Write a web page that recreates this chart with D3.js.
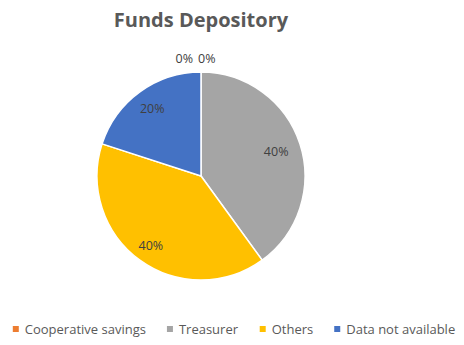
<!DOCTYPE html>
<html>
<head>
<meta charset="utf-8">
<script src="https://cdn.jsdelivr.net/npm/d3@7"></script>
<style>
  html, body { margin: 0; padding: 0; background: #fff; }
  svg { display: block; font-family: "Open Sans", "Noto Sans", sans-serif; }
</style>
</head>
<body>
<svg id="chart" width="464" height="345"></svg>
<script>
// Share of funds by depository
const categories = ["Cooperative savings", "Treasurer", "Others", "Data not available", ""];
const values = [0, 40, 40, 20, 0];
const colors = ["#ED7D31", "#A5A5A5", "#FFC000", "#4472C4", "#5B9BD5"];
const legendCategories = categories.slice(0, 4);

const svg = d3.select("#chart");
const W = 464;
const cx = 201, cy = 176, R = 104;

svg.append("text")
  .attr("x", cx).attr("y", 27)
  .attr("text-anchor", "middle")
  .attr("font-size", 20).attr("font-weight", 700)
  .attr("fill", "#595959")
  .text("Funds Depository");

const data = categories.map((c, i) => ({ name: c, value: values[i], color: colors[i] }));
const pie = d3.pie().sort(null).value(d => d.value);
const arcs = pie(data);
const arc = d3.arc().innerRadius(0).outerRadius(R);

const g = svg.append("g").attr("transform", `translate(${cx},${cy})`);
g.selectAll("path.slice")
  .data(arcs.filter(a => a.data.value > 0))
  .join("path")
  .attr("class", "slice")
  .attr("d", arc)
  .attr("fill", d => d.data.color)
  .attr("stroke", "#fff")
  .attr("stroke-width", 1.5);

// Percentage labels: inside for visible slices, above the rim for empty ones
const total = d3.sum(values);
const inner = d3.arc().innerRadius(R * 0.76).outerRadius(R * 0.76);
g.selectAll("text.pct")
  .data(arcs)
  .join("text")
  .attr("class", "pct")
  .attr("font-size", 12.5)
  .attr("fill", "#404040")
  .attr("dominant-baseline", "central")
  .attr("text-anchor", d => d.data.value > 0 ? "middle" : (d.index === 0 ? "start" : "end"))
  .attr("transform", d => {
    if (d.data.value > 0) {
      const [x, y] = inner.centroid(d);
      const extra = d.index === 2 ? 1.08 : (d.index === 3 ? 1.05 : 1);
      return `translate(${x * extra},${y * extra})`;
    }
    const a = d.startAngle;
    const r = R + 14;
    const dx = d.index === 0 ? -3 : -8;
    return `translate(${Math.sin(a) * r + dx},${-Math.cos(a) * r})`;
  })
  .text(d => Math.round(d.data.value / total * 100) + "%");

// Legend
const legend = svg.append("g").attr("transform", "translate(0,329)");
const items = legend.selectAll("g.item").data(legendCategories).join("g").attr("class", "item");
items.append("rect")
  .attr("y", -3).attr("width", 6).attr("height", 6)
  .attr("fill", (d, i) => colors[i]);
items.append("text")
  .attr("x", 12).attr("y", 0)
  .attr("dominant-baseline", "central")
  .attr("font-size", 13).attr("fill", "#595959")
  .text(d => d);
let widths = [];
items.each(function () { widths.push(this.getBBox().width); });
const gap = 21;
const totalW = d3.sum(widths) + gap * (widths.length - 1);
let x0 = (W - totalW) / 2 + 2;
items.attr("transform", (d, i) => {
  const t = `translate(${x0},0)`;
  x0 += widths[i] + gap;
  return t;
});
</script>
</body>
</html>
